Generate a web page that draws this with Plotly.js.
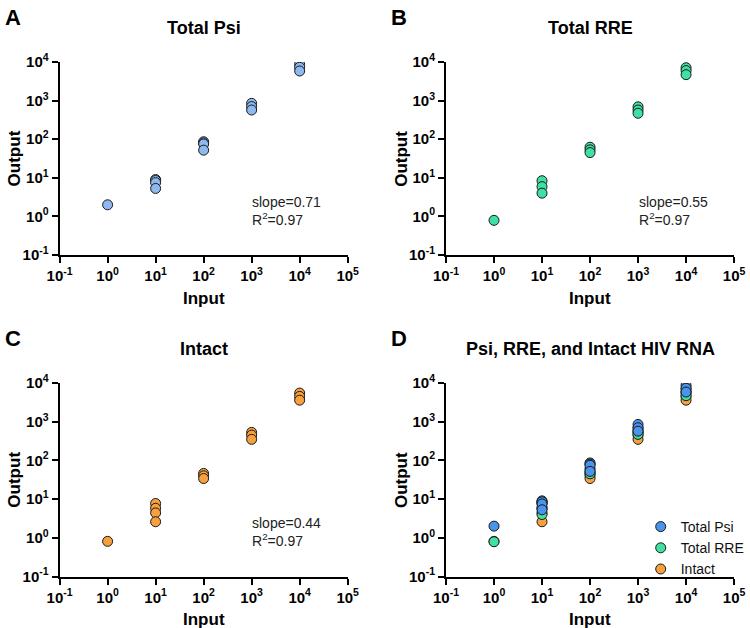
<!DOCTYPE html>
<html>
<head>
<meta charset="utf-8">
<script src="https://cdn.plot.ly/plotly-3.0.1.min.js"></script>
<style>html,body{margin:0;padding:0;background:#fff;}#chart{width:750px;height:628px;}</style>
</head>
<body>
<div id="chart"></div>
<script>
// ---- Data ----
const psiInput  = [1, 10, 10, 10, 10, 100, 100, 100, 100, 1000, 1000, 1000, 10000, 10000, 10000];
const psiOutput = [2.0, 9.0, 8.5, 7.5, 5.3, 86, 80, 75, 52, 850, 700, 570, 8700, 7300, 5850];

const rreInput  = [1, 10, 10, 10, 100, 100, 100, 1000, 1000, 1000, 10000, 10000, 10000];
const rreOutput = [0.79, 8.4, 5.9, 4.0, 62, 53, 45, 690, 570, 470, 7100, 6000, 4700];

const intactInput  = [1, 10, 10, 10, 10, 100, 100, 100, 1000, 1000, 1000, 10000, 10000, 10000];
const intactOutput = [0.81, 7.7, 5.8, 4.4, 2.6, 46, 40, 34, 530, 450, 350, 5500, 4500, 3600];

const seriesNames = ["Total Psi", "Total RRE", "Intact"];
const panelTitles = ["Total Psi", "Total RRE", "Intact", "Psi, RRE, and Intact HIV RNA"];
const panelLetters = ["A", "B", "C", "D"];
const fitText = ["slope=0.71", "slope=0.55", "slope=0.44"];
const r2Text = ["0.97", "0.97", "0.97"];

const xTickVals = [0.1, 1, 10, 100, 1000, 10000, 100000];
const yTickVals = [0.1, 1, 10, 100, 1000, 10000];
const tickExps  = ["-1", "0", "1", "2", "3", "4", "5"];

// ---- Styling ----
const W = 750, H = 628;
const font = "Liberation Sans, Arial, Helvetica, sans-serif";
const colA = "#8DB9EE", colD = "#4A94EC", colRRE = "#3FE0A4", colInt = "#F7A03E";

function px(x){ return x / W; }
function py(y){ return 1 - y / H; }
function tt(n){ return tickExps.slice(0, n).map(e => "10<sup>" + e + "</sup>"); }

// panel plot boxes in pixels [left, right, top, bottom]
const boxes = [
  [60, 350, 62, 255],
  [449, 739, 62, 255],
  [60, 350, 383, 576.5],
  [449, 739, 383, 576.5]
];

function mk(color){
  return {size: 10, color: color, line: {color: "#1a1a1a", width: 1}};
}

const traces = [
  {x: psiInput, y: psiOutput, xaxis: "x", yaxis: "y", mode: "markers", type: "scatter", marker: mk(colA), showlegend: false, name: seriesNames[0]},
  {x: rreInput, y: rreOutput, xaxis: "x2", yaxis: "y2", mode: "markers", type: "scatter", marker: mk(colRRE), showlegend: false, name: seriesNames[1]},
  {x: intactInput, y: intactOutput, xaxis: "x3", yaxis: "y3", mode: "markers", type: "scatter", marker: mk(colInt), showlegend: false, name: seriesNames[2]},
  {x: intactInput, y: intactOutput, xaxis: "x4", yaxis: "y4", mode: "markers", type: "scatter", marker: mk(colInt), showlegend: true, name: seriesNames[2]},
  {x: rreInput, y: rreOutput, xaxis: "x4", yaxis: "y4", mode: "markers", type: "scatter", marker: mk(colRRE), showlegend: true, name: seriesNames[1]},
  {x: psiInput, y: psiOutput, xaxis: "x4", yaxis: "y4", mode: "markers", type: "scatter", marker: mk(colD), showlegend: true, name: seriesNames[0]}
];

const layout = {
  width: W, height: H,
  margin: {l: 0, r: 0, t: 0, b: 0},
  paper_bgcolor: "#fff", plot_bgcolor: "rgba(0,0,0,0)",
  font: {family: font, color: "#000"},
  hovermode: false,
  showlegend: true,
  legend: {
    x: px(645), y: py(511), xanchor: "left", yanchor: "top",
    traceorder: "reversed",
    font: {family: font, size: 14, color: "#111"},
    bgcolor: "rgba(0,0,0,0)", itemwidth: 30, tracegroupgap: 0
  },
  annotations: []
};

boxes.forEach((b, i) => {
  const s = i === 0 ? "" : String(i + 1);
  const axCommon = {
    type: "log",
    showgrid: false, zeroline: false,
    showline: true, linecolor: "#000", linewidth: 2,
    ticks: "outside", ticklen: 6, tickwidth: 2, tickcolor: "#000",
    tickfont: {family: font, size: 15, color: "#000", weight: "bold"},
    fixedrange: true
  };
  layout["xaxis" + s] = Object.assign({}, axCommon, {
    range: [-1, 5], domain: [px(b[0]), px(b[1])], anchor: "y" + s,
    tickmode: "array", tickvals: xTickVals, ticktext: tt(7)
  });
  layout["yaxis" + s] = Object.assign({}, axCommon, {
    range: [-1, 4], domain: [py(b[3]), py(b[2])], anchor: "x" + s,
    tickmode: "array", tickvals: yTickVals, ticktext: tt(6)
  });
  const cx = (b[0] + b[1]) / 2;
  // panel title
  layout.annotations.push({
    text: panelTitles[i], xref: "paper", yref: "paper",
    x: px(cx), y: py(b[2] - 34), xanchor: "center", yanchor: "middle",
    showarrow: false, font: {family: font, size: 18, weight: "bold", color: "#000"}
  });
  // panel letter
  layout.annotations.push({
    text: panelLetters[i], xref: "paper", yref: "paper",
    x: px(b[0] - 57), y: py(b[2] - 45), xanchor: "left", yanchor: "middle",
    showarrow: false, font: {family: font, size: 22, weight: "bold", color: "#000"}
  });
  // x title
  layout.annotations.push({
    text: "Input", xref: "paper", yref: "paper",
    x: px(cx), y: py(b[3] + 43), xanchor: "center", yanchor: "middle",
    showarrow: false, font: {family: font, size: 17, weight: "bold", color: "#000"}
  });
  // y title
  layout.annotations.push({
    text: "Output", xref: "paper", yref: "paper", textangle: -90,
    x: px(b[0] - 45), y: py((b[2] + b[3]) / 2), xanchor: "center", yanchor: "middle",
    showarrow: false, font: {family: font, size: 17, weight: "bold", color: "#000"}
  });
  if (i < 3) {
    layout.annotations.push({
      text: fitText[i] + "<br>R<sup>2</sup>=" + r2Text[i], xref: "paper", yref: "paper",
      x: px(b[0] + 192), y: py(b[2] + 149), xanchor: "left", yanchor: "middle", align: "left",
      showarrow: false, font: {family: font, size: 14, color: "#222"}
    });
  }
});

Plotly.newPlot("chart", traces, layout, {displayModeBar: false, staticPlot: true});
</script>
</body>
</html>
